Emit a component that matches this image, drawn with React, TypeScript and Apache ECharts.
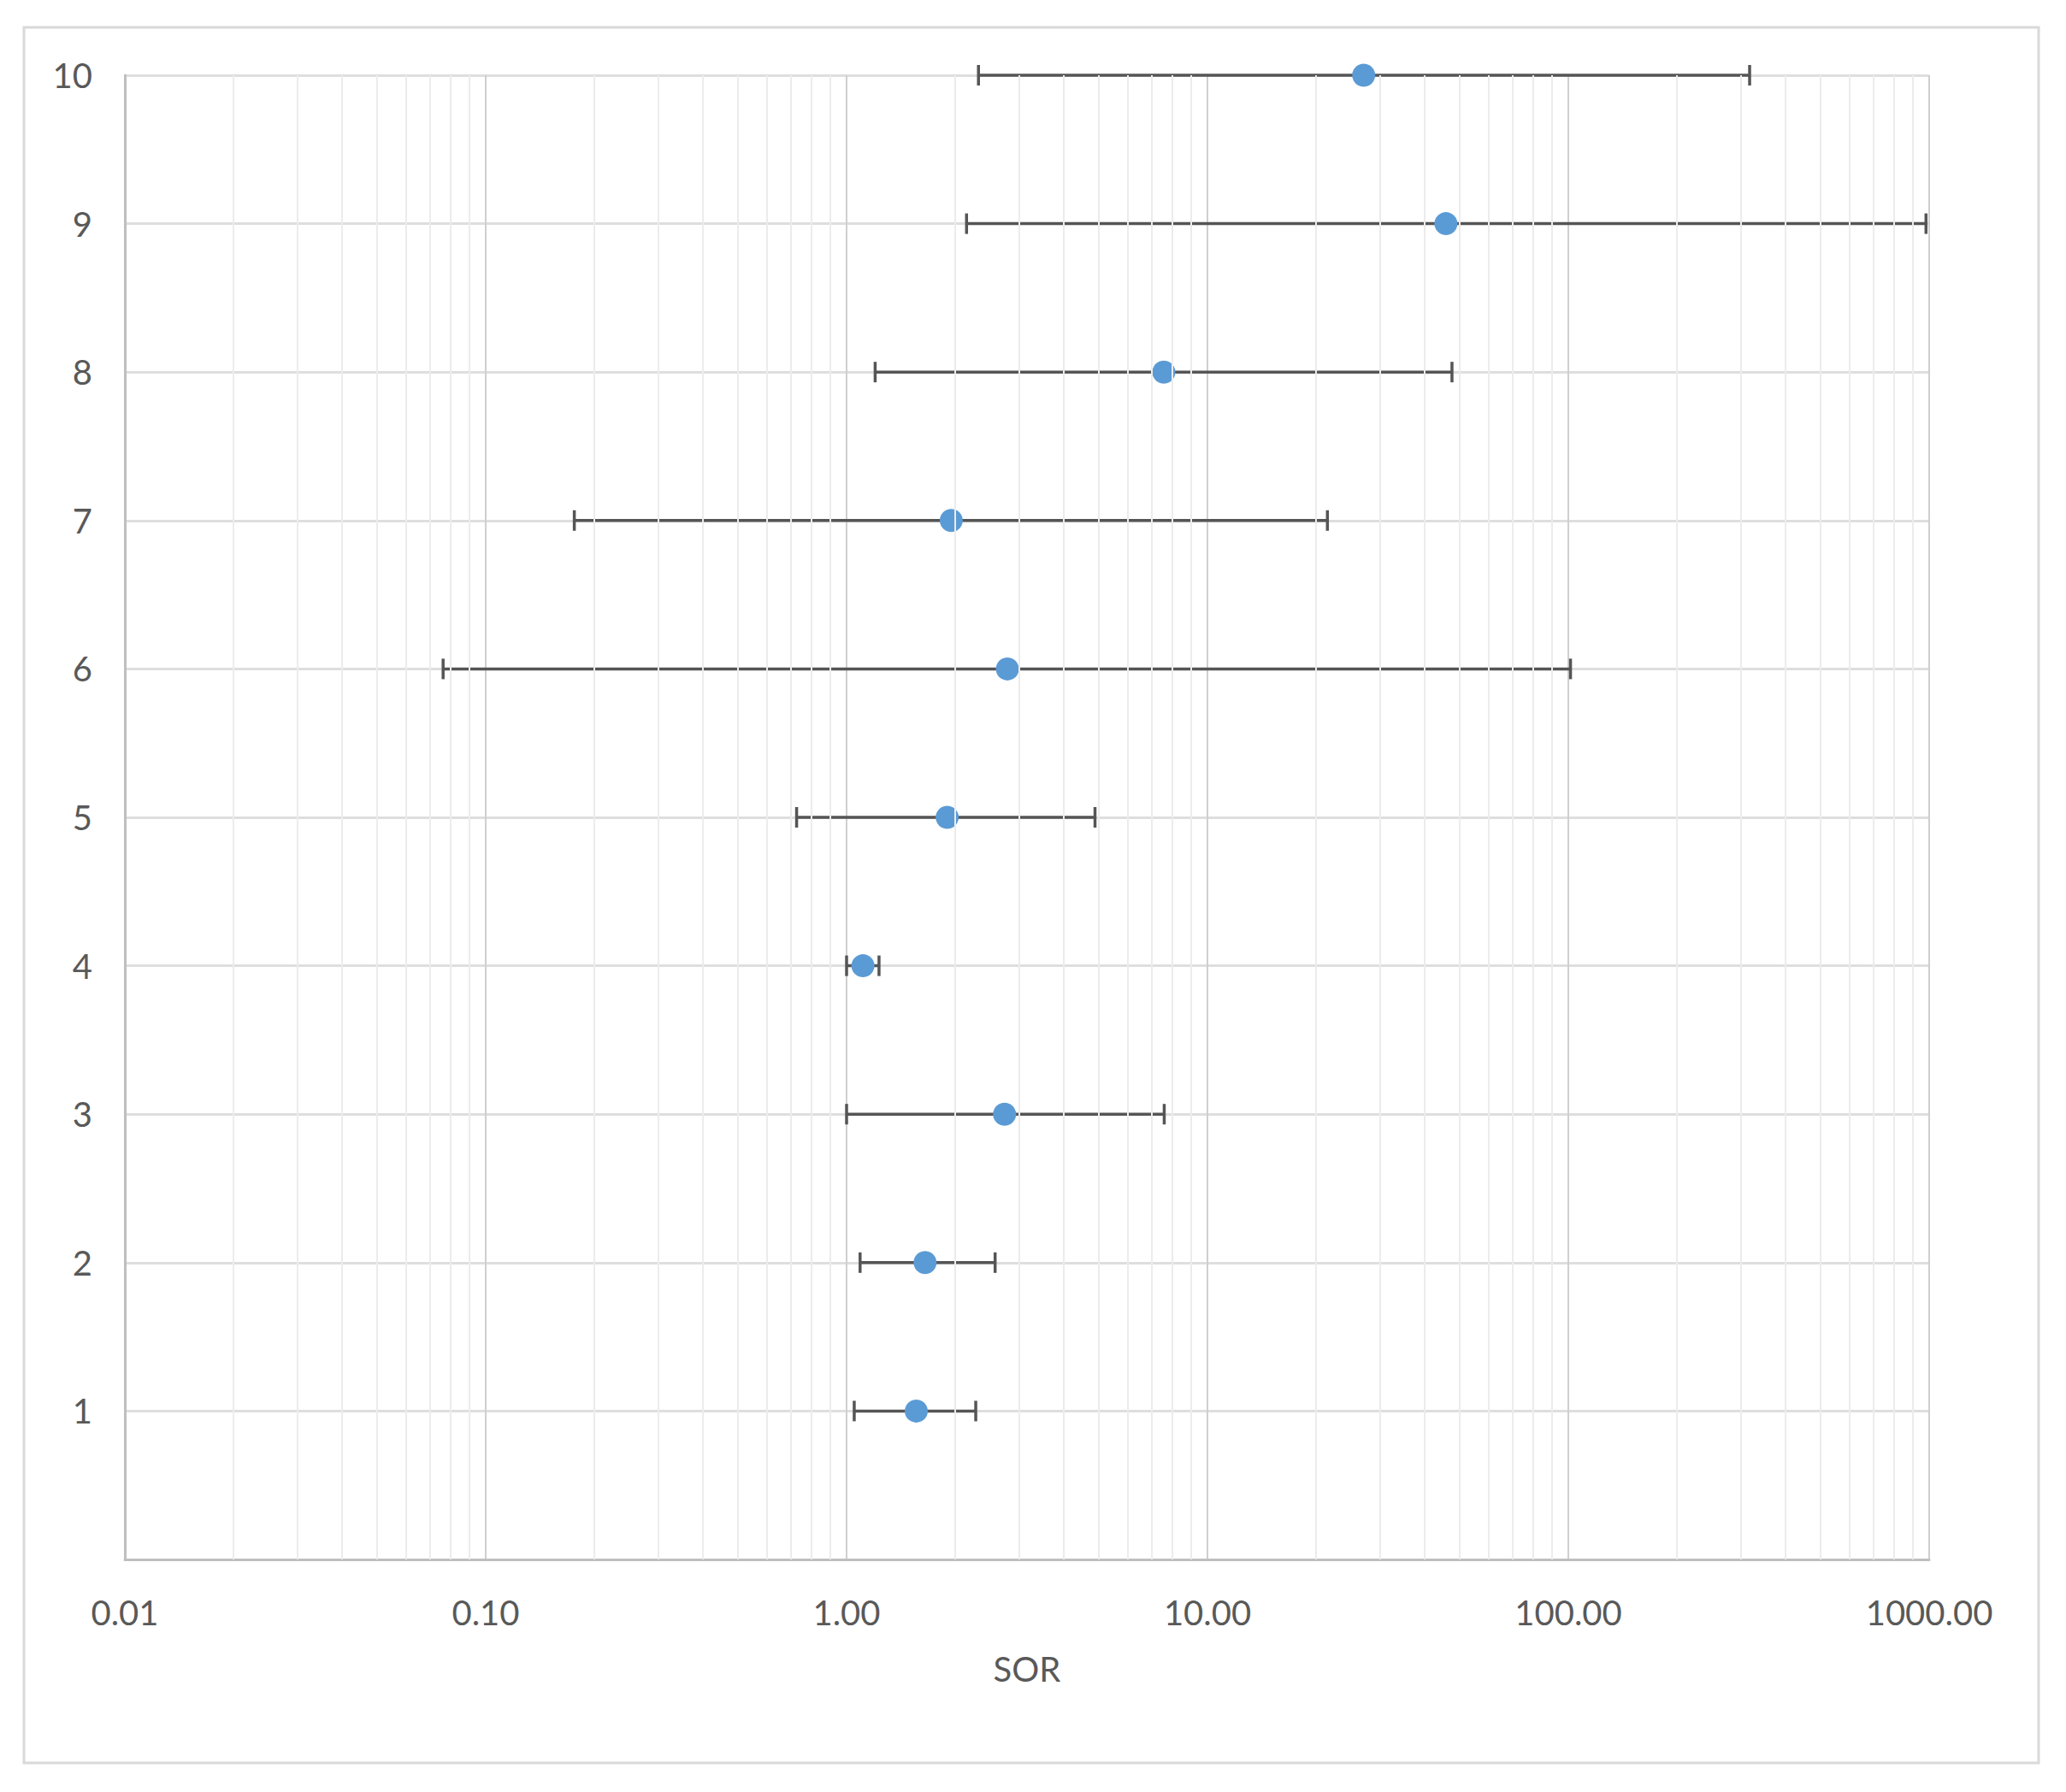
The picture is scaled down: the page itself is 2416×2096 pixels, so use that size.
import React, { useEffect, useRef } from "react";
import * as echarts from "echarts";

const categories = [1, 2, 3, 4, 5, 6, 7, 8, 9, 10];
const sorValues = [1.56, 1.65, 2.74, 1.11, 1.9, 2.79, 1.95, 7.57, 45.8, 27.1];
const lowerCI = [1.05, 1.09, 1.0, 1.0, 0.727, 0.0762, 0.176, 1.2, 2.15, 2.32];
const upperCI = [2.28, 2.58, 7.59, 1.23, 4.88, 101.4, 21.5, 47.6, 980, 318];
const xDecades = [0.01, 0.1, 1, 10, 100];
const minorMultipliers = [2, 3, 4, 5, 6, 7, 8, 9];
const xAxisName = "SOR";

const TEXT = "#595959";
const FONT = "Lato";

export default function App() {
  const ref = useRef<HTMLDivElement>(null);
  useEffect(() => {
    document.body.style.margin = "0";
    const chart = echarts.init(ref.current!, null, { renderer: "svg" });
    const minorLines: number[] = [];
    xDecades.forEach((d) => minorMultipliers.forEach((m) => minorLines.push(d * m)));

    const errData = categories.map((c, i) => [lowerCI[i], upperCI[i], c]);
    const pointData = categories.map((c, i) => [sorValues[i], c]);

    chart.setOption({
      animation: false,
      backgroundColor: "#ffffff",
      textStyle: { fontFamily: FONT },
      graphic: [
        {
          type: "rect",
          shape: { x: 28, y: 32, width: 2356, height: 2030 },
          style: { fill: "none", stroke: "#d9d9d9", lineWidth: 3 },
          silent: true,
        },
      ],
      grid: { left: 146, right: 160, top: 88, bottom: 272, containLabel: false },
      xAxis: {
        type: "log",
        logBase: 10,
        min: 0.01,
        max: 1000,
        name: xAxisName,
        nameLocation: "middle",
        nameGap: 108,
        nameTextStyle: { color: TEXT, fontSize: 40, fontFamily: FONT },
        axisLine: { show: true, lineStyle: { color: "#bfbfbf", width: 3 } },
        axisTick: { show: false },
        axisLabel: {
          color: TEXT,
          fontSize: 40,
          fontFamily: FONT,
          margin: 42,
          formatter: (v: number) => v.toFixed(2),
        },
        splitLine: { show: true, lineStyle: { color: "#cfcfcf", width: 2 } },
      },
      yAxis: {
        type: "value",
        min: 0,
        max: 10,
        interval: 1,
        axisLine: { show: true, lineStyle: { color: "#bfbfbf", width: 3 } },
        axisTick: { show: false },
        axisLabel: {
          color: TEXT,
          fontSize: 40,
          fontFamily: FONT,
          margin: 38,
          formatter: (v: number) => (v === 0 ? "" : String(v)),
        },
        splitLine: { show: true, lineStyle: { color: "#dedede", width: 3 } },
      },
      series: [
        {
          type: "line",
          data: [],
          z: 1,
          silent: true,
          markLine: {
            silent: true,
            symbol: "none",
            label: { show: false },
            lineStyle: { color: "#ececec", width: 2, type: "solid" },
            data: minorLines.map((v) => ({ xAxis: v })),
          },
        },
        {
          type: "custom",
          z: 3,
          silent: true,
          encode: { x: [0, 1], y: 2 },
          data: errData,
          renderItem: (params: any, api: any) => {
            const lo = api.value(0);
            const hi = api.value(1);
            const y = api.value(2);
            const p1 = api.coord([lo, y]);
            const p2 = api.coord([hi, y]);
            const cap = 12;
            const style = { stroke: "#555555", lineWidth: 3.5 };
            return {
              type: "group",
              children: [
                { type: "line", shape: { x1: p1[0], y1: p1[1], x2: p2[0], y2: p2[1] }, style },
                { type: "line", shape: { x1: p1[0], y1: p1[1] - cap, x2: p1[0], y2: p1[1] + cap }, style },
                { type: "line", shape: { x1: p2[0], y1: p2[1] - cap, x2: p2[0], y2: p2[1] + cap }, style },
              ],
            };
          },
        },
        {
          type: "scatter",
          z: 4,
          data: pointData,
          symbol: "circle",
          symbolSize: 27,
          itemStyle: { color: "#5B9BD5", opacity: 1 },
        },
      ],
    });
    return () => chart.dispose();
  }, []);
  return <div ref={ref} style={{ width: 2416, height: 2096 }} />;
}
